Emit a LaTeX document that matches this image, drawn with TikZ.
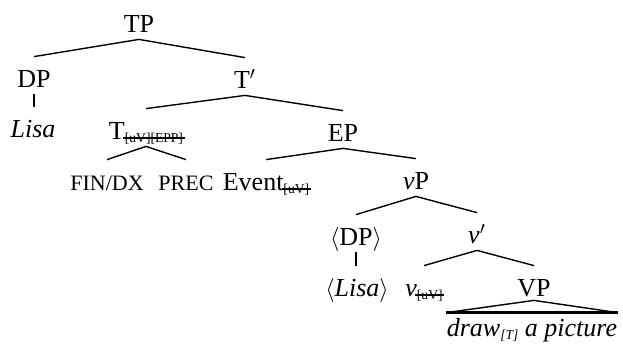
\documentclass[tikz,border=0pt]{standalone}
\usepackage{fontspec}
\setmainfont{Liberation Serif}
\newsavebox\strkbox
\newcommand\strk[1]{\sbox\strkbox{#1}\rlap{\hskip-0.8pt\rule[1.7pt]{\dimexpr\wd\strkbox+1.6pt\relax}{1pt}}\usebox\strkbox}
\newcommand\subf[1]{\raisebox{-1.6pt}{\fontsize{6.8}{7}\selectfont #1}}
\newcommand\smc[1]{{\fontsize{11}{12}\selectfont #1}}
\tikzset{
  lbl/.style={anchor=base, inner sep=0pt, text height=15pt, text depth=3.5pt, font=\fontsize{13}{15}\selectfont},
  br/.style={line width=0.7pt},
  stem/.style={line width=1.3pt},
  base/.style={line width=1.6pt}
}
\begin{document}
\begin{tikzpicture}[x=0.5pt,y=-0.5pt]
\useasboundingbox (0,0) rectangle (623,345);
\node[lbl] (TP) at (139,32) {TP};
\node[lbl] (DP) at (34,87) {DP};
\node[lbl] (Lisa) at (33,137) {\itshape Lisa};
\node[lbl] (Tbar) at (245,88) {T$'$};
\node[lbl] (T) at (146,139) {T\subf{\strk{[uV][EPP]}}};
\node[lbl] (EP) at (343,141) {EP};
\node[lbl] (fin) at (107,190) {\smc{FIN/DX}};
\node[lbl] (prec) at (186,190) {\smc{PREC}};
\node[lbl] (event) at (266,190) {Event\subf{\strk{[uV]}}};
\node[lbl] (vP) at (416,189) {\textit{v}P};
\node[lbl] (aDP) at (356,245) {$\langle$DP$\rangle$};
\node[lbl] (vbar) at (477,243) {\textit{v}$'$};
\node[lbl] (aLisa) at (357,296) {$\langle$\textit{Lisa}$\rangle$};
\node[lbl] (v) at (424,296) {\textit{v}\subf{\strk{[uV]}}};
\node[lbl, text depth=2pt] (VP) at (534,296) {VP};
\node[lbl, text height=11.5pt, text depth=3pt] (txt) at (532,336) {\textit{draw}\subf{\textit{[T]}} \textit{a picture}};
\draw[br] (DP.north) -- (TP.south) -- (Tbar.north);
\draw[stem] (DP.south) -- (DP.south |- Lisa.north);
\draw[br] (T.north) -- (Tbar.south) -- (EP.north);
\draw[br] (fin.north) -- (T.south) -- (prec.north);
\draw[br] (event.north) -- (EP.south) -- (vP.north);
\draw[br] (aDP.north) -- (vP.south) -- (vbar.north);
\draw[stem] (aDP.south) -- (aDP.south |- aLisa.north);
\draw[br] (v.north) -- (vbar.south) -- (VP.north);
\draw[br] (txt.north west) -- (VP.south) -- (txt.north east);
\draw[base] (txt.north west) -- (txt.north east);
\end{tikzpicture}
\end{document}
